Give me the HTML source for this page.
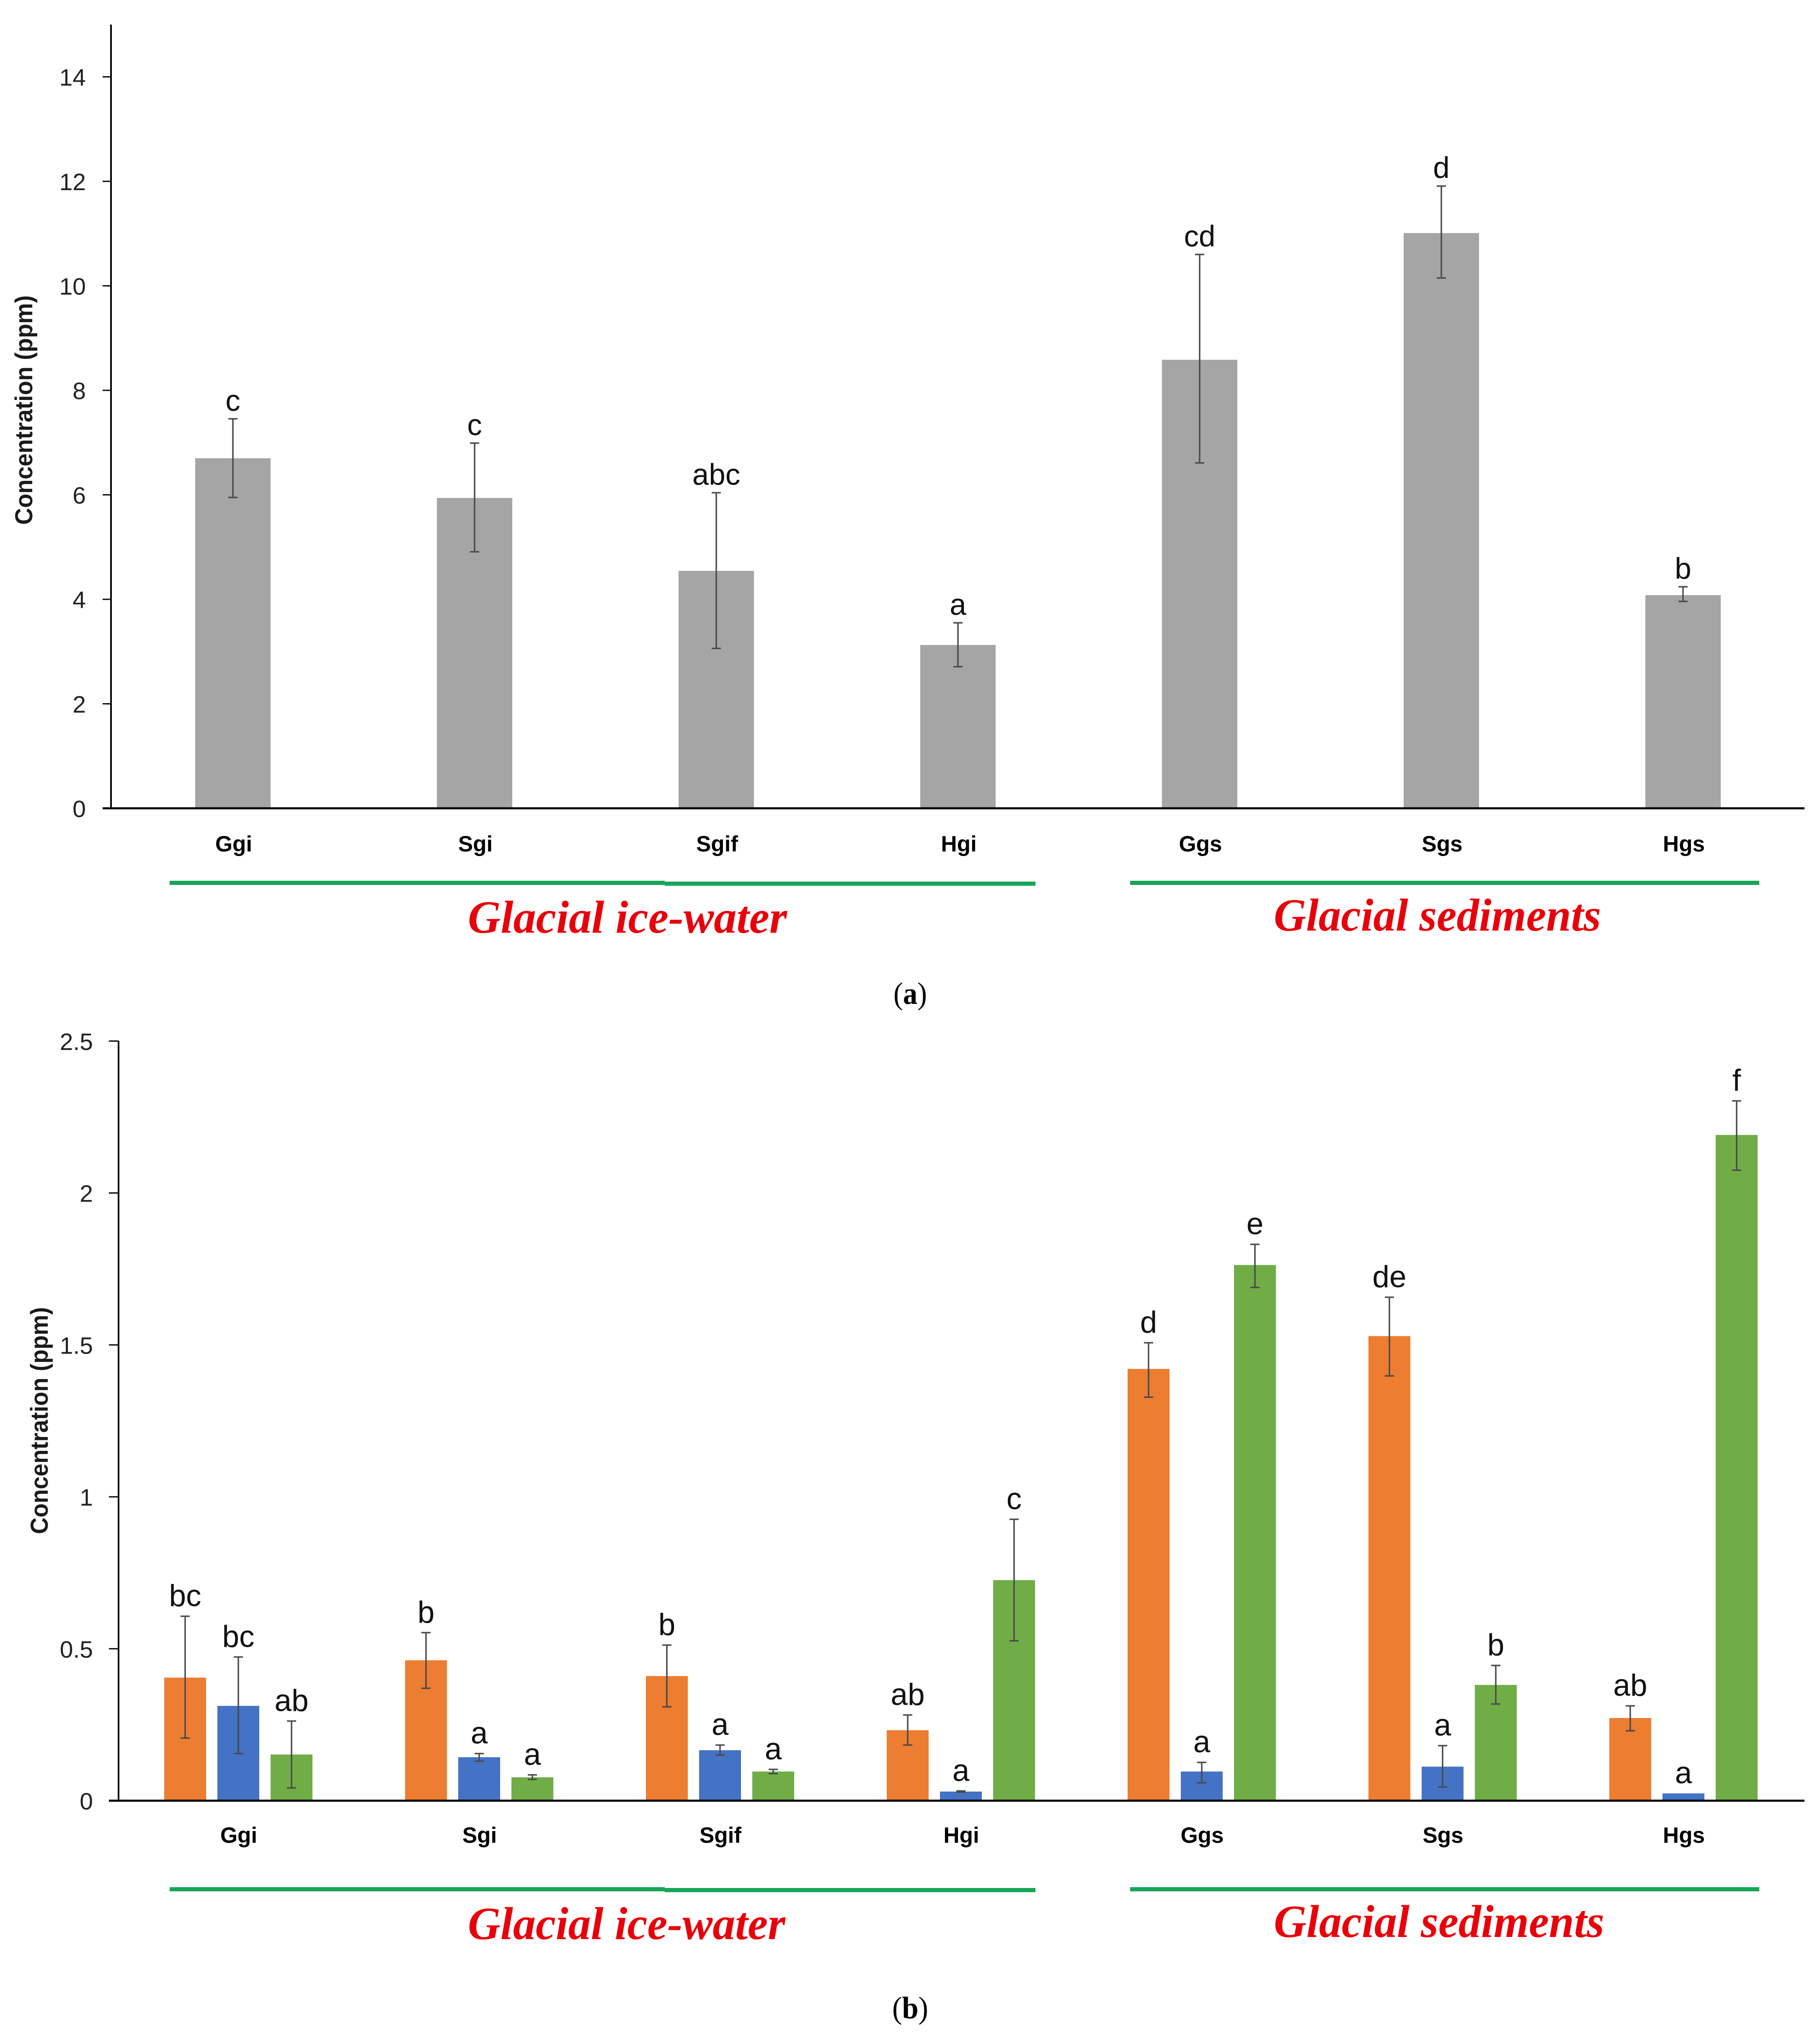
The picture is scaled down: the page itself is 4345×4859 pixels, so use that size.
<!DOCTYPE html>
<html lang="en">
<head>
<meta charset="utf-8">
<title>Concentration charts</title>
<style>
html,body{margin:0;padding:0;background:#fff}
svg{display:block}
text{font-family:"Liberation Sans",sans-serif}
.serif{font-family:"Liberation Serif",serif}
</style>
</head>
<body>
<svg id="fig" xmlns="http://www.w3.org/2000/svg" width="4345" height="4859" viewBox="0 0 4345 4859">
  <rect x="0" y="0" width="4345" height="4859" fill="#fff"/>

  <g id="panelA"></g>
  <g id="panelB"></g>

  <text transform="translate(77,979) rotate(-90)" text-anchor="middle" font-size="58" font-weight="700" fill="#1a1a1a" textLength="548" lengthAdjust="spacingAndGlyphs">Concentration (ppm)</text>
  <text transform="translate(114,3392) rotate(-90)" text-anchor="middle" font-size="58" font-weight="700" fill="#1a1a1a" textLength="542" lengthAdjust="spacingAndGlyphs">Concentration (ppm)</text>

  <rect x="405" y="2103" width="1182" height="10" fill="#17A659"/>
  <rect x="1587" y="2105" width="885" height="10" fill="#17A659"/>
  <rect x="2698" y="2103" width="1502" height="10" fill="#17A659"/>
  <text class="serif" x="1117" y="2227" font-size="110" font-weight="700" font-style="italic" fill="#E8000B" textLength="762" lengthAdjust="spacingAndGlyphs">Glacial ice-water</text>
  <text class="serif" x="3041" y="2222" font-size="110" font-weight="700" font-style="italic" fill="#E8000B" textLength="781" lengthAdjust="spacingAndGlyphs">Glacial sediments</text>
  <text class="serif" x="2133" y="2397" font-size="74" fill="#000" textLength="80" lengthAdjust="spacingAndGlyphs">(<tspan font-weight="700">a</tspan>)</text>

  <rect x="405" y="4506" width="1182" height="10" fill="#17A659"/>
  <rect x="1587" y="4508" width="885" height="10" fill="#17A659"/>
  <rect x="2698" y="4506" width="1502" height="10" fill="#17A659"/>
  <text class="serif" x="1117" y="4630" font-size="110" font-weight="700" font-style="italic" fill="#E8000B" textLength="758" lengthAdjust="spacingAndGlyphs">Glacial ice-water</text>
  <text class="serif" x="3041" y="4625" font-size="110" font-weight="700" font-style="italic" fill="#E8000B" textLength="789" lengthAdjust="spacingAndGlyphs">Glacial sediments</text>
  <text class="serif" x="2130" y="4819" font-size="74" fill="#000" textLength="86" lengthAdjust="spacingAndGlyphs">(<tspan font-weight="700">b</tspan>)</text>
</svg>

<script>
const categories = ["Ggi", "Sgi", "Sgif", "Hgi", "Ggs", "Sgs", "Hgs"];

const ticksA = [0, 2, 4, 6, 8, 10, 12, 14];
const valuesA = [6.70, 5.94, 4.545, 3.126, 8.585, 11.01, 4.08];
const errHighA = [7.455, 6.99, 6.04, 3.55, 10.6, 11.91, 4.24];
const errLowA = [5.95, 4.91, 3.06, 2.71, 6.61, 10.15, 3.96];
const lettersA = ["c", "c", "abc", "a", "cd", "d", "b"];

const ticksB = [0, 0.5, 1, 1.5, 2, 2.5];
const valuesOrange = [0.405, 0.462, 0.41, 0.232, 1.421, 1.529, 0.272];
const errHighOrange = [0.607, 0.553, 0.512, 0.282, 1.507, 1.657, 0.312];
const errLowOrange = [0.206, 0.37, 0.309, 0.183, 1.328, 1.398, 0.23];
const lettersOrange = ["bc", "b", "b", "ab", "d", "de", "ab"];

const valuesBlue = [0.312, 0.143, 0.166, 0.03, 0.096, 0.112, 0.024];
const errHighBlue = [0.473, 0.155, 0.183, 0.032, 0.126, 0.181, 0.024];
const errLowBlue = [0.155, 0.13, 0.15, 0.028, 0.059, 0.045, 0.024];
const lettersBlue = ["bc", "a", "a", "a", "a", "a", "a"];

const valuesGreen = [0.152, 0.077, 0.096, 0.726, 1.763, 0.381, 2.191];
const errHighGreen = [0.262, 0.085, 0.103, 0.926, 1.831, 0.445, 2.303];
const errLowGreen = [0.042, 0.07, 0.089, 0.526, 1.689, 0.318, 2.075];
const lettersGreen = ["ab", "a", "a", "c", "e", "b", "f"];

const NS = "http://www.w3.org/2000/svg";
function mk(parent, tag, attrs, txt) {
  const el = document.createElementNS(NS, tag);
  for (const k in attrs) el.setAttribute(k, attrs[k]);
  if (txt !== undefined) el.textContent = txt;
  parent.appendChild(el);
  return el;
}

const yA = v => 1930 - v * 124.75;
const xA = i => 556 + i * 577;
const yB = v => 4299.5 - v * 725.5;
const xB = i => 569 + i * 575;
const seriesOffset = s => (s - 1) * 127;

function drawAxes(g, cfg) {
  const yAxis = mk(g, "line", {x1: cfg.axisX, x2: cfg.axisX, y1: cfg.top, y2: cfg.y(0), stroke: "#000", "stroke-width": 4});
  
  
  cfg.ticks.forEach(t => {
    const tick = mk(g, "line", {x1: cfg.tickX, x2: cfg.axisX, y1: cfg.y(t), y2: cfg.y(t), stroke: "#000", "stroke-width": 3});
    
    
    const lab = mk(g, "text", {x: cfg.labelX, y: cfg.y(t) + 21, "text-anchor": "end", "font-size": 57, fill: "#222"}, String(t));
    
    
  });
  categories.forEach((c, i) => {
    const lab = mk(g, "text", {x: cfg.x(i) + cfg.catDx, y: cfg.catY, "text-anchor": "middle", "font-size": 53, "font-weight": 700, fill: "#000"}, c);
    
    
  });
}

function drawBaseline(g, cfg) {
  const xAxis = mk(g, "line", {x1: cfg.tickX, x2: 4308, y1: cfg.y(0), y2: cfg.y(0), stroke: "#000", "stroke-width": 5});
  
  
}

function drawSeries(g, cfg, s) {
  s.values.forEach((v, i) => {
    const cx = cfg.x(i) + s.dx;
    const bar = mk(g, "rect", {x: cx - s.width / 2, y: cfg.y(v), width: s.width, height: cfg.y(0) - cfg.y(v), fill: s.color});
    
    

    const yHi = cfg.y(s.high[i]), yLo = cfg.y(s.low[i]);
    if (s.high[i] !== s.low[i]) {
      const stem = mk(g, "line", {x1: cx, x2: cx, y1: yHi, y2: yLo, stroke: "#4a4a4a", "stroke-width": 3.5});
      
      
      const capHi = mk(g, "line", {x1: cx - 11, x2: cx + 11, y1: yHi, y2: yHi, stroke: "#4a4a4a", "stroke-width": 3.5});
      
      
      const capLo = mk(g, "line", {x1: cx - 11, x2: cx + 11, y1: yLo, y2: yLo, stroke: "#4a4a4a", "stroke-width": 3.5});
      
      
    }
    const letter = mk(g, "text", {x: cx, y: yHi - cfg.letterGap, "text-anchor": "middle", "font-size": cfg.letterSize, fill: "#111"}, s.letters[i]);
    
    
  });
}

const cfgA = {key: "a", axisX: 265, top: yA(15), tickX: 245, labelX: 205, y: yA, x: xA, ticks: ticksA, catDx: 2, catY: 2033, letterGap: 19, letterSize: 71};
const cfgB = {key: "b", axisX: 283, top: yB(2.5), tickX: 260, labelX: 222, y: yB, x: xB, ticks: ticksB, catDx: 1, catY: 4400, letterGap: 24, letterSize: 73};

const gA = document.getElementById("panelA");
const gB = document.getElementById("panelB");

drawAxes(gA, cfgA);
drawSeries(gA, cfgA, {name: "grey", color: "#A5A5A5", dx: 0, width: 180, values: valuesA, high: errHighA, low: errLowA, letters: lettersA});
drawBaseline(gA, cfgA);

drawAxes(gB, cfgB);
drawSeries(gB, cfgB, {name: "orange", color: "#ED7D31", dx: seriesOffset(0), width: 100, values: valuesOrange, high: errHighOrange, low: errLowOrange, letters: lettersOrange});
drawSeries(gB, cfgB, {name: "blue", color: "#4472C4", dx: seriesOffset(1), width: 100, values: valuesBlue, high: errHighBlue, low: errLowBlue, letters: lettersBlue});
drawSeries(gB, cfgB, {name: "green", color: "#70AD47", dx: seriesOffset(2), width: 100, values: valuesGreen, high: errHighGreen, low: errLowGreen, letters: lettersGreen});
drawBaseline(gB, cfgB);
</script>
</body>
</html>
